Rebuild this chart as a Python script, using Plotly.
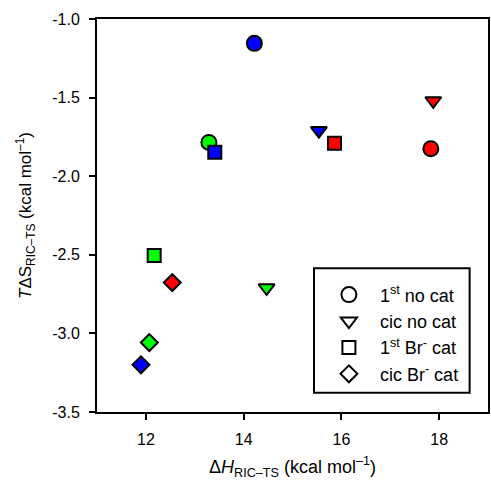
import plotly.graph_objects as go

# Enthalpy / entropy contributions for each system (kcal/mol)
circle_x = [14.22, 13.29, 17.83]
circle_y = [-1.155, -1.785, -1.825]
circle_c = ["#0000FF", "#00FF00", "#FF0000"]

tri_x = [15.54, 14.47, 17.88]
tri_y = [-1.71, -2.71, -1.52]
tri_c = ["#0000FF", "#00FF00", "#FF0000"]

sq_x = [13.41, 12.17, 15.86]
sq_y = [-1.848, -2.505, -1.79]
sq_c = ["#0000FF", "#00FF00", "#FF0000"]

dia_x = [11.90, 12.07, 12.54]
dia_y = [-3.20, -3.058, -2.677]
dia_c = ["#0000FF", "#00FF00", "#FF0000"]

legend_names = ["1<sup>st</sup> no cat", "cic no cat",
                "1<sup>st</sup> Br<sup>-</sup> cat", "cic Br<sup>-</sup> cat"]

x_ticks = [12, 14, 16, 18]
y_ticks = [-1.0, -1.5, -2.0, -2.5, -3.0, -3.5]
y_ticktext = ["-1.0", "-1.5", "-2.0", "-2.5", "-3.0", "-3.5"]

FONT = "Liberation Sans, Arial, sans-serif"

fig = go.Figure()

series = [
    (circle_x, circle_y, circle_c, "circle", 15),
    (tri_x, tri_y, tri_c, "triangle-down", 14),
    (sq_x, sq_y, sq_c, "square", 13),
    (dia_x, dia_y, dia_c, "diamond", 13),
]

for (xs, ys, cs, sym, sz) in series:
    fig.add_trace(go.Scatter(
        x=xs, y=ys, mode="markers", showlegend=False,
        marker=dict(symbol=sym, size=sz, color=cs,
                    line=dict(color="black", width=2)),
    ))

# legend-only entries: hollow shapes
for (name, (_, _, _, sym, sz)) in zip(legend_names, series):
    fig.add_trace(go.Scatter(
        x=[None], y=[None], mode="markers", name=name,
        marker=dict(symbol=sym, size=sz, color="white",
                    line=dict(color="black", width=2)),
    ))

fig.add_shape(type="rect", xref="paper", yref="paper",
              x0=0.555, x1=0.953, y0=0.049, y1=0.366,
              line=dict(color="black", width=2), fillcolor="white",
              layer="below")

axis_common = dict(
    showline=True, linecolor="black", linewidth=2, mirror=True,
    ticks="outside", ticklen=6, tickwidth=2, tickcolor="black",
    showgrid=False, zeroline=False,
    tickfont=dict(family=FONT, size=16, color="black"),
)

fig.update_layout(
    width=491, height=486,
    margin=dict(l=97, r=1, t=19, b=74),
    plot_bgcolor="white", paper_bgcolor="white",
    font=dict(family=FONT, size=16, color="black"),
    xaxis=dict(range=[11, 19], tickvals=x_ticks, ticklabelstandoff=6,
               title=dict(text="Δ<i>H</i><sub>RIC–TS</sub> (kcal mol<sup>–1</sup>)",
                          font=dict(family=FONT, size=18), standoff=13),
               **axis_common),
    yaxis=dict(range=[-3.5, -1.0], tickvals=y_ticks, ticktext=y_ticktext,
               ticklabelstandoff=6,
               title=dict(text="<i>T</i>ΔS<sub>RIC–TS</sub> (kcal mol<sup>–1</sup>)",
                          font=dict(family=FONT, size=17), standoff=16),
               **axis_common),
    legend=dict(x=0.565, y=0.345, xanchor="left", yanchor="top",
                bgcolor="rgba(0,0,0,0)", borderwidth=0,
                font=dict(family=FONT, size=18, color="black"),
                tracegroupgap=0, itemwidth=52),
)

fig.write_html("out.html")
